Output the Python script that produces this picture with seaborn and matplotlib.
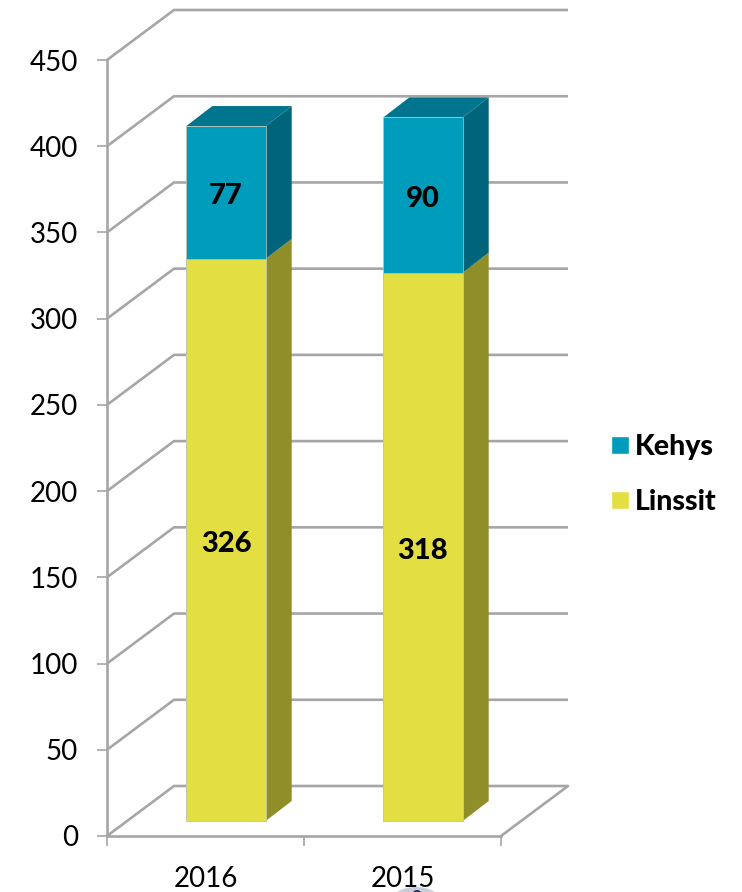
import matplotlib
matplotlib.use('Agg')
import matplotlib.pyplot as plt
import pandas as pd
import seaborn as sns
from matplotlib.patches import Ellipse, Patch, Polygon
from matplotlib.transforms import Affine2D, IdentityTransform

# Data
years = ['2016', '2015']
linssit = [326, 318]
kehys = [77, 90]
y_ticks = [0, 50, 100, 150, 200, 250, 300, 350, 400, 450]

# Colours
TEAL = '#009CBB'
TEAL_TOP = '#00758D'
TEAL_SIDE = '#00647A'
YELLOW = '#E3DF42'
YELLOW_SIDE = '#8F8E28'
GRAY = '#A6A6A6'

# Fake 3D depth, in pixels
WALL = (67, 50)
BAR_SHIFT = (20.5, 15)
BAR_DEPTH = (26, 20)
BAR_WIDTH = 0.403

sns.set_theme(style='white')
plt.rcParams['font.family'] = ['Lato', 'DejaVu Sans']
plt.rcParams['text.color'] = 'black'

fig = plt.figure(figsize=(7.42, 8.92), dpi=100)
ax = fig.add_axes([107 / 742, (892 - 836) / 892, 394 / 742, 776 / 892])
ax.patch.set_alpha(0)

df = pd.DataFrame({'year': years, 'Linssit': linssit, 'Kehys': kehys})
df['total'] = df['Linssit'] + df['Kehys']

# Front faces, total first and the lower part over it
sns.barplot(data=df, x='year', y='total', color=TEAL, saturation=1, width=BAR_WIDTH, ax=ax, zorder=5)
sns.barplot(data=df, x='year', y='Linssit', color=YELLOW, saturation=1, width=BAR_WIDTH, ax=ax, zorder=5)
ax.set_xlim(-0.5, 1.5)
ax.set_ylim(0, 450)
ax.set_xlabel('')
ax.set_ylabel('')

shift = ax.transData + Affine2D().translate(*BAR_SHIFT)
label_shift = shift + Affine2D().translate(0, -4)
for p in ax.patches:
    p.set_transform(shift)
    p.set_clip_on(False)
    p.set_edgecolor('#C4C4B0')
    p.set_linewidth(0.5)


def px(x, y, off=(0, 0)):
    a, b = ax.transData.transform((x, y))
    return a + off[0], b + off[1]


def face(points, color, z=4):
    ax.add_patch(Polygon(points, closed=True, facecolor=color, edgecolor='none',
                         transform=IdentityTransform(), clip_on=False, zorder=z))


# Back wall and left wall lines, one per y tick
x0, x1 = ax.get_xlim()
for v in y_ticks:
    pts = [px(x0, v), px(x0, v, WALL), px(x1, v, WALL)]
    ax.plot([p[0] for p in pts], [p[1] for p in pts], color=GRAY, lw=1.9,
            transform=IdentityTransform(), clip_on=False, zorder=1, solid_capstyle='butt')
# Right edge of the floor
pts = [px(x1, 0), px(x1, 0, WALL)]
ax.plot([p[0] for p in pts], [p[1] for p in pts], color=GRAY, lw=1.9,
        transform=IdentityTransform(), clip_on=False, zorder=1)

# Side and top faces of the bars
back = (BAR_SHIFT[0] + BAR_DEPTH[0], BAR_SHIFT[1] + BAR_DEPTH[1])
for i in range(len(years)):
    left = i - BAR_WIDTH / 2
    right = i + BAR_WIDTH / 2
    low = linssit[i]
    top = linssit[i] + kehys[i]
    face([px(right, 0, BAR_SHIFT), px(right, low, BAR_SHIFT), px(right, low, back), px(right, 0, back)], YELLOW_SIDE)
    face([px(right, low, BAR_SHIFT), px(right, top, BAR_SHIFT), px(right, top, back), px(right, low, back)], TEAL_SIDE)
    face([px(left, top, BAR_SHIFT), px(right, top, BAR_SHIFT), px(right, top, back), px(left, top, back)], TEAL_TOP)

    # Value labels in the middle of each segment
    ax.text(i, low / 2, str(low), transform=label_shift, ha='center', va='center',
            fontsize=21, fontweight='black', color='black', zorder=6)
    ax.text(i, low + kehys[i] / 2, str(kehys[i]), transform=label_shift, ha='center', va='center',
            fontsize=21, fontweight='black', color='black', zorder=6)

# Axes
sns.despine(ax=ax, top=True, right=True)
for side in ['left', 'bottom']:
    ax.spines[side].set_color(GRAY)
    ax.spines[side].set_linewidth(1.9)
ax.set_yticks(y_ticks)
ax.set_xticks([-0.5, 0.5, 1.5], labels=[])
ax.tick_params(axis='both', which='major', length=7, width=1.2, color=GRAY, left=True, bottom=True)
ax.tick_params(axis='y', labelsize=20, labelcolor='black', pad=14)
for i, year in enumerate(years):
    ax.annotate(year, xy=(i, 0), xycoords='data', xytext=(0, -43), textcoords='offset pixels',
                ha='center', va='center', fontsize=20, color='black', annotation_clip=False)

# Legend
handles = [Patch(facecolor=TEAL, label='Kehys'), Patch(facecolor=YELLOW, label='Linssit')]
fig.legend(handles=handles, loc='center left', bbox_to_anchor=(602 / 742, 1 - 474.5 / 892), frameon=False,
           prop={'size': 20.5, 'weight': 'black'}, handlelength=0.64, handleheight=0.64,
           handletextpad=0.22, labelspacing=1.02, borderpad=0.3, borderaxespad=0)

# Cut-off logo peeking in at the bottom edge
fig.add_artist(Ellipse((416 / 742, 1 - 899 / 892), 46 / 742, 24 / 892, transform=fig.transFigure,
                       facecolor='#C9CEDC', edgecolor='none'))
fig.add_artist(Ellipse((417 / 742, 1 - 893 / 892), 8 / 742, 6 / 892, transform=fig.transFigure,
                       facecolor='#2A3566', edgecolor='none'))

fig.savefig('out.png', dpi=100)
